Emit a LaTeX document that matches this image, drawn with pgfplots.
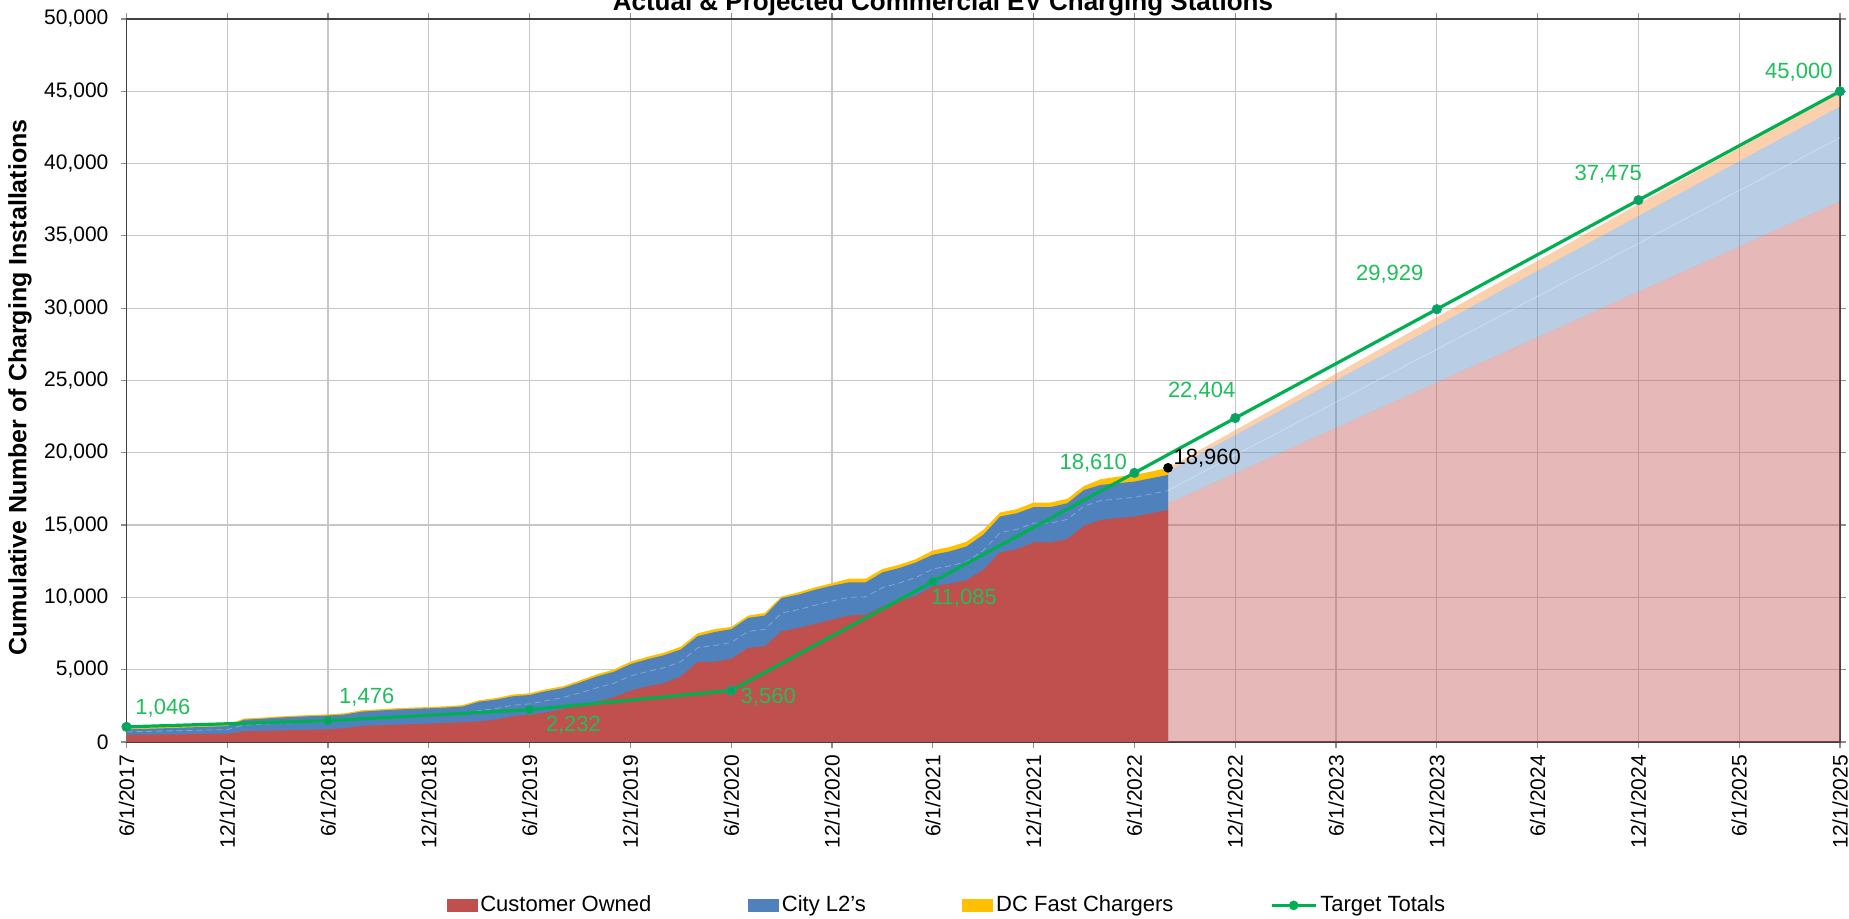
\documentclass[border=0pt]{standalone}
\usepackage{fontspec}
\setmainfont{Liberation Sans}
\usepackage{pgfplots}
\usepackage{pgfplotstable}
\pgfplotsset{compat=1.18}
\usepgfplotslibrary{fillbetween}
\definecolor{cRed}{HTML}{C0504D}
\definecolor{cBlue}{HTML}{4F81BD}
\definecolor{cYel}{HTML}{FFC000}
\definecolor{cOrg}{HTML}{F79646}
\definecolor{cGreen}{HTML}{00B050}
\definecolor{cLab}{HTML}{1EBE5A}

% months since 6/1/2017; R = customer owned top, B = City L2 top, T = total (DC fast top), D = inner dashed line
\pgfplotstableread{
m R B T D
0 500 870 960 704
1 510 900 990 724
2 520 940 1030 751
3 530 980 1070 778
4 540 1020 1110 804
5 555 1060 1150 833
6 570 1100 1190 862
7 730 1540 1620 1176
8 760 1600 1680 1222
9 800 1680 1760 1284
10 820 1740 1820 1326
11 850 1790 1870 1367
12 870 1830 1910 1398
13 960 1900 1990 1477
14 1100 2100 2190 1650
15 1150 2170 2260 1711
16 1190 2240 2330 1768
17 1230 2290 2380 1813
18 1260 2330 2420 1849
19 1310 2380 2470 1899
20 1370 2450 2550 1964
21 1420 2790 2890 2174
22 1560 2930 3040 2314
23 1780 3160 3280 2539
24 1880 3250 3370 2634
25 2060 3520 3650 2863
26 2290 3730 3860 3082
27 2520 4120 4260 3400
28 2790 4530 4680 3747
29 3090 4850 5010 4058
30 3550 5380 5550 4557
31 3840 5720 5890 4874
32 4070 6000 6180 5132
33 4530 6400 6590 5559
34 5540 7320 7520 6519
35 5540 7600 7800 6673
36 5750 7800 7960 6878
37 6510 8580 8740 7649
38 6620 8740 8920 7786
39 7660 9960 10070 8925
40 7890 10190 10350 9155
41 8165 10530 10700 9466
42 8460 10810 10990 9753
43 8740 11040 11290 10005
44 8810 11040 11290 10037
45 9380 11730 11960 10673
46 9730 12030 12260 10995
47 10120 12420 12650 11385
48 10760 12950 13250 11965
49 10950 13180 13480 12177
50 11180 13520 13850 12467
51 11910 14330 14670 13241
52 13110 15590 15870 14474
53 13340 15820 16100 14704
54 13800 16240 16560 15142
55 13800 16240 16560 15142
56 14030 16510 16810 15394
57 14950 17430 17710 16314
58 15360 17780 18170 16691
59 15480 17890 18350 16806
60 15590 18010 18470 16921
61 15820 18240 18700 17151
62 16050 18470 18960 17381
}\actual

\pgfplotstableread{
m Z R B T D
62 0 16500 18700 18960 17400
102 0 37400 43950 45000 41800
}\proj

\pgfplotstableread{
m v
0 1046
12 1476
24 2232
36 3560
48 11085
60 18610
66 22404
78 29929
90 37475
102 45000
}\target

\begin{document}
\begin{tikzpicture}
\begin{axis}[
  scale only axis,
  width=856.75pt, height=361.5pt,
  xmin=0, xmax=102, ymin=0, ymax=50000,
  clip=false,
  xtick={0,6,...,102},
  xticklabels={6/1/2017,12/1/2017,6/1/2018,12/1/2018,6/1/2019,12/1/2019,6/1/2020,12/1/2020,6/1/2021,12/1/2021,6/1/2022,12/1/2022,6/1/2023,12/1/2023,6/1/2024,12/1/2024,6/1/2025,12/1/2025},
  ytick={0,5000,...,50000},
  scaled y ticks=false,
  /pgf/number format/assume math mode=true,
  /pgf/number format/1000 sep={,},
  ticklabel style={font=\fontsize{10.5}{12}\selectfont},
  xticklabel style={rotate=90, anchor=east},
  yticklabel style={xshift=-2.5pt},
  grid=major,
  grid style={black!22, line width=0.6pt},
  axis line style={black!75, line width=0.7pt},
  tick align=outside,
  major tick length=3pt,
  tick style={black!45, line width=0.6pt},
  legend style={at={(0.479,-0.226)}, anchor=center, draw=none, fill=none,
    legend columns=4, font=\fontsize{11}{13}\selectfont,
    nodes={inner xsep=1.5pt, inner ysep=1pt},
    /tikz/every even column/.append style={column sep=46.8pt}},
  legend cell align=left,
]
\addlegendimage{legend image code/.code={\fill[cRed] (0pt,-3pt) rectangle (15pt,3pt);}}
\addlegendentry{Customer Owned}
\addlegendimage{legend image code/.code={\fill[cBlue] (0pt,-3pt) rectangle (15pt,3pt);}}
\addlegendentry{City L2's}
\addlegendimage{legend image code/.code={\fill[cYel] (0pt,-3pt) rectangle (15pt,3pt);}}
\addlegendentry{DC Fast Chargers}
\addlegendimage{legend image code/.code={\draw[cGreen, line width=1.6pt] (0pt,0pt) -- (22pt,0pt); \fill[cGreen] (11pt,0pt) circle (2.2pt);}}
\addlegendentry{Target Totals}

% actual (opaque, drawn from total down)
\addplot[fill=cYel, draw=none, forget plot] table[x=m,y=T]{\actual} \closedcycle;
\addplot[fill=cBlue, draw=none, forget plot] table[x=m,y=B]{\actual} \closedcycle;
\addplot[fill=cRed, draw=none, forget plot] table[x=m,y=R]{\actual} \closedcycle;
\addplot[white, densely dashed, line width=0.4pt, opacity=0.3, forget plot] table[x=m,y=D]{\actual};

% projected
\addplot[name path=pZ, draw=none, forget plot] table[x=m,y=Z]{\proj};
\addplot[name path=pR, draw=none, forget plot] table[x=m,y=R]{\proj};
\addplot[name path=pB, draw=none, forget plot] table[x=m,y=B]{\proj};
\addplot[name path=pT, draw=none, forget plot] table[x=m,y=T]{\proj};
\addplot[fill=cRed, fill opacity=0.4, draw=none, forget plot] fill between[of=pR and pZ];
\addplot[fill=cBlue, fill opacity=0.4, draw=none, forget plot] fill between[of=pB and pR];
\addplot[fill=cOrg, fill opacity=0.45, draw=none, forget plot] fill between[of=pT and pB];
\addplot[white, line width=0.4pt, opacity=0.35, forget plot] table[x=m,y=D]{\proj};

% target line
\addplot[cGreen, line width=1.6pt, mark=*, mark size=2.3pt,
  mark options={fill=cGreen!80!teal, draw=cBlue!45!cGreen, line width=0.5pt}, forget plot]
  table[x=m,y=v]{\target};
% last actual point
\addplot[only marks, mark=*, mark size=2.2pt, black, forget plot] coordinates {(62,18960)};

% labels
\begin{scope}[every node/.style={font=\fontsize{11}{13}\selectfont, text=cLab, anchor=center, inner sep=0pt}]
\node at (axis cs:2.17,2320) {1,046};
\node at (axis cs:14.3,3110) {1,476};
\node at (axis cs:26.6,1140) {2,232};
\node at (axis cs:38.2,3110) {3,560};
\node at (axis cs:49.85,9920) {11,085};
\node at (axis cs:57.55,19300) {18,610};
\node at (axis cs:64.0,24240) {22,404};
\node at (axis cs:75.2,32330) {29,929};
\node at (axis cs:88.2,39280) {37,475};
\node at (axis cs:99.55,46300) {45,000};
\node[text=black] at (axis cs:64.33,19640) {18,960};
\end{scope}

\node[font=\bfseries\fontsize{13}{15}\selectfont, anchor=base] at ([yshift=4pt]axis cs:48.6,50000) {Actual \& Projected Commercial EV Charging Stations};
\node[font=\bfseries\fontsize{12.5}{14}\selectfont, rotate=90, anchor=center] at ([xshift=-53.25pt,yshift=-3.5pt]axis cs:0,25000) {Cumulative Number of Charging Installations};
\end{axis}
\pgfresetboundingbox
\path[use as bounding box] ([xshift=-63.25pt,yshift=-88.5pt]current axis.south west) rectangle ([xshift=4.5pt,yshift=9.5pt]current axis.north east);
\end{tikzpicture}
\end{document}
